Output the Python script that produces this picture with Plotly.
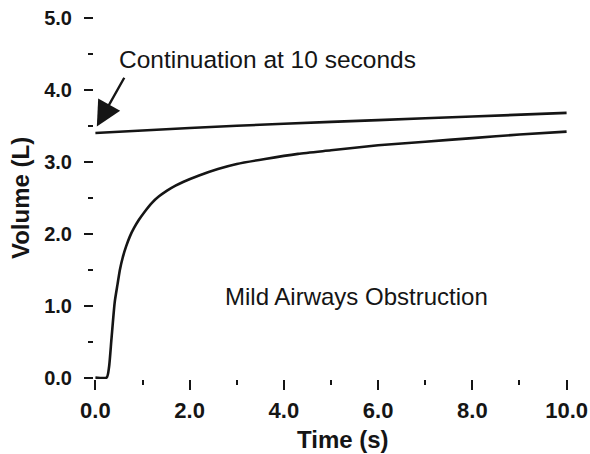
import plotly.graph_objects as go

# Lower curve: volume-time from start of expiration
time_s = [0, 0.24, 0.29, 0.34, 0.41, 0.47, 0.52, 0.58, 0.65, 0.73, 0.82, 0.92,
          1.05, 1.2, 1.35, 1.52, 1.7, 1.86, 2.2, 2.6, 3.0, 3.6, 4.3, 5.0,
          6.0, 7.0, 8.0, 9.0, 10.0]
volume_l = [0, 0, 0.15, 0.53, 1.05, 1.3, 1.5, 1.67, 1.82, 1.96, 2.08, 2.19,
            2.31, 2.43, 2.52, 2.6, 2.67, 2.72, 2.81, 2.9, 2.97, 3.04, 3.11, 3.16,
            3.23, 3.28, 3.33, 3.38, 3.42]

# Upper curve: continuation at 10 seconds
cont_time_s = [0, 2, 4, 6, 8, 10]
cont_volume_l = [3.40, 3.47, 3.53, 3.58, 3.63, 3.68]

x_ticks = [0, 2, 4, 6, 8, 10]
x_tick_labels = ["0.0", "2.0", "4.0", "6.0", "8.0", "10.0"]
y_ticks = [0, 1, 2, 3, 4, 5]
y_tick_labels = ["0.0", "1.0", "2.0", "3.0", "4.0", "5.0"]

ink = "#151515"
fig = go.Figure()
fig.add_trace(go.Scatter(x=time_s, y=volume_l, mode="lines",
                         line=dict(color=ink, width=2.6, shape="spline",
                                   smoothing=0.6),
                         showlegend=False))
fig.add_trace(go.Scatter(x=cont_time_s, y=cont_volume_l, mode="lines",
                         line=dict(color=ink, width=2.6, shape="spline",
                                   smoothing=0.6),
                         showlegend=False))

fig.update_layout(
    width=590, height=454,
    margin=dict(l=94, r=22, t=18, b=75),
    plot_bgcolor="white", paper_bgcolor="white",
    font=dict(family="Liberation Sans, Arial, sans-serif", color=ink),
    xaxis=dict(range=[-0.03, 10.03], tickmode="array", tickvals=x_ticks,
               ticktext=x_tick_labels, ticks="outside", ticklen=10, tickwidth=2,
               tickcolor=ink, showgrid=False, zeroline=False, showline=False,
               automargin=False,
               tickfont=dict(size=22, family="Liberation Sans, Arial, sans-serif",
                             weight="bold"),
               ticklabelstandoff=2,
               minor=dict(dtick=1, tick0=0, ticks="outside", ticklen=5,
                          tickwidth=2, tickcolor=ink, showgrid=False)),
    yaxis=dict(range=[-0.02, 5.0], tickmode="array", tickvals=y_ticks,
               ticktext=y_tick_labels, ticks="outside", ticklen=9, tickwidth=2,
               tickcolor=ink, showgrid=False, zeroline=False, showline=False,
               automargin=False,
               tickfont=dict(size=20, family="Liberation Sans, Arial, sans-serif",
                             weight="bold"),
               ticklabelstandoff=8,
               minor=dict(dtick=0.5, tick0=0, ticks="outside", ticklen=5,
                          tickwidth=2, tickcolor=ink, showgrid=False)),
)

fig.add_annotation(xref="paper", yref="paper", x=-0.155, y=0.5,
                   text="<b>Volume (L)</b>", showarrow=False, textangle=-90,
                   font=dict(size=24), xanchor="center", yanchor="middle")
fig.add_annotation(xref="paper", yref="paper", x=0.526, y=-0.168,
                   text="<b>Time (s)</b>", showarrow=False,
                   font=dict(size=24), xanchor="center", yanchor="middle")

fig.add_annotation(x=0.46, y=4.42, text="Continuation at 10 seconds",
                   showarrow=False, xanchor="left", yanchor="middle",
                   font=dict(size=24.5))
fig.add_annotation(x=0.03, y=3.49, ax=0.63, ay=4.19, axref="x", ayref="y",
                   text="", showarrow=True, arrowhead=2, arrowsize=2.1,
                   arrowwidth=2.4, arrowcolor=ink)
fig.add_annotation(x=5.55, y=1.125, text="Mild Airways Obstruction",
                   showarrow=False, xanchor="center", yanchor="middle",
                   font=dict(size=24))

fig.write_html("out.html")
